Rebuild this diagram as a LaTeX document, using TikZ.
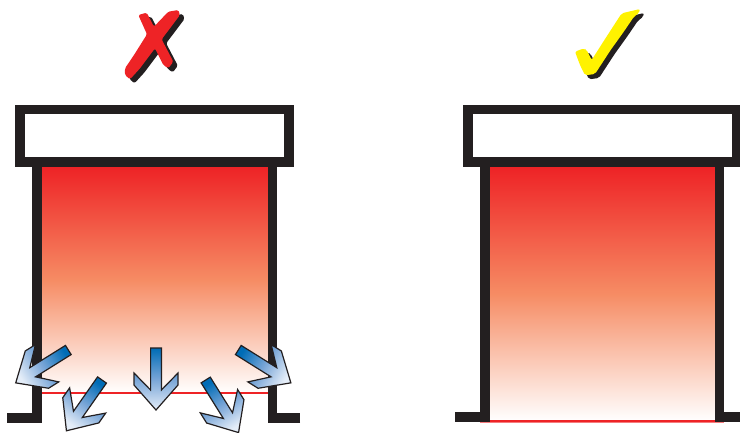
\documentclass[tikz,border=0pt]{standalone}
\usepackage{xcolor}
\usepackage{tikz}

\definecolor{wallblack}{RGB}{35,31,32}
\definecolor{hotred}{RGB}{238,35,38}
\definecolor{midred}{RGB}{246,140,100}
\definecolor{flowblue}{RGB}{0,108,182}
\definecolor{flowmid}{RGB}{120,165,215}
\definecolor{flowpale}{RGB}{228,237,248}
\definecolor{markyellow}{RGB}{255,242,0}

\begin{document}
\begin{tikzpicture}[
            x=1pt,
            y=-1pt,
            wall/.style={
                draw=wallblack,
                line width=9.5pt,
                miter limit=10
            },
            heat/.style={
                top color=hotred,
                bottom color=white,
                middle color=midred
            },
            leak/.style={
                draw=hotred,
                line width=1.6pt
            },
            flowarrow/.style={
                draw=wallblack,
                line width=1.2pt,
                line join=miter,
                top color=flowblue,
                bottom color=flowpale,
                middle color=flowmid
            },
            pics/flow/.style={
                code={
                    \path [flowarrow, shading angle=#1] (-5.4,0) -- (5.4,0) -- (5.4,42) -- (22,25) -- (22,37) -- (0,62) -- (-22,37) -- (-22,25) -- (-5.4,42) -- (-5.4,0) -- cycle;
                }
            },
            pics/crossmark/.style={
                code={
                    \fill [#1, rounded corners=1.5pt] (85,45) -- (110,38) -- (132,80) -- (175,35) -- (205,30) -- (210,45) -- (155,118) -- (190,185) -- (175,205) -- (160,195) -- (135,145) -- (90,205) -- (60,238) -- (45,225) -- (45,205) -- (72,165) -- (111,103) -- cycle;
                }
            },
            pics/checkmark/.style={
                code={
                    \fill [#1, rounded corners=2pt] (45,155) -- (72,145) -- (80,150) -- (95,180) -- (130,125) -- (185,40) -- (240,27) -- (238,38) -- (222,50) -- (190,97) -- (152,150) -- (105,222) -- (75,226) -- (60,195) -- cycle;
                }
            }
        ]
            \useasboundingbox (0,0) rectangle (740,432);
            \clip (0,0) rectangle (740,432);

            % --- RECIPIENTE IZQUIERDO ---
            \fill [heat] (42,167) rectangle (268,393);
            \draw [leak] (42,392.7) -- (268,392.7);
            \draw [wall] (7.3,418) -- (37,418) -- (37,162);
            \draw [wall] (300,418) -- (272.3,418) -- (272.3,162);
            \draw [wall, fill=white] (20.2,109.7) rectangle (288.8,162);

            % --- RECIPIENTE DERECHO ---
            \fill [heat] (490,167) rectangle (715,421);
            \draw [leak, draw opacity=0.6, line width=2pt] (480,421.5) -- (724,421.5);
            \draw [leak, line width=1.6pt] (490,421) -- (715,421);
            \draw [wall] (455,417) -- (485,417) -- (485,162);
            \draw [wall] (740,417) -- (719.7,417) -- (719.7,162);
            \draw [wall, fill=white] (468,109.7) rectangle (736.5,162);

            % --- FLECHAS ---
            \foreach \px/\py/\ang in {68.3/350/-58, 102/380/-35, 156/348/0, 205.7/380/32, 238.3/350/58}
                \pic [rotate=\ang] at (\px,\py) {flow=\ang};

            % --- MARCAS ---
            \pic [xshift=114.5pt, yshift=-4pt, x=0.3333pt, y=-0.3333pt] at (0,0) {crossmark=wallblack};
            \pic [xshift=110pt, x=0.3333pt, y=-0.3333pt] at (0,0) {crossmark=hotred};
            \pic [xshift=564pt, yshift=-4pt, x=0.3333pt, y=-0.3333pt] at (0,0) {checkmark=wallblack};
            \pic [xshift=560pt, x=0.3333pt, y=-0.3333pt] at (0,0) {checkmark=markyellow};
        \end{tikzpicture}
\end{document}
